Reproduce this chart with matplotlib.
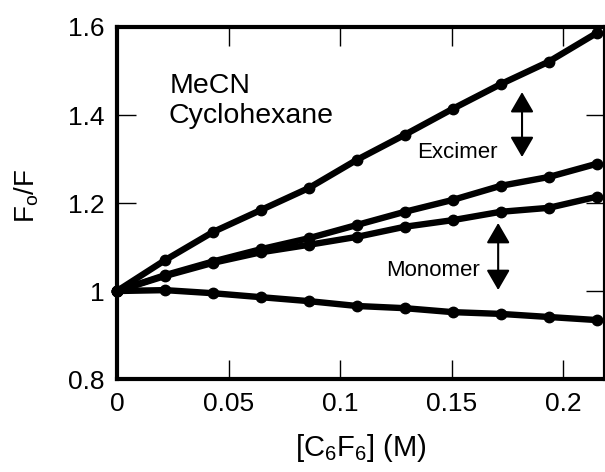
import matplotlib
matplotlib.use("Agg")
import matplotlib.pyplot as plt

plt.rcParams['font.family'] = ['Liberation Sans', 'DejaVu Sans']
plt.rcParams['mathtext.fontset'] = 'custom'
plt.rcParams['mathtext.rm'] = 'Liberation Sans'
plt.rcParams['mathtext.it'] = 'Liberation Sans'

# C6F6 concentrations (M)
conc = [0.0, 0.0215, 0.043, 0.0645, 0.086, 0.1075, 0.129, 0.1505, 0.172, 0.1935, 0.215]

# F0/F ratios for each data set
excimer_mecn = [1.0, 1.070, 1.134, 1.184, 1.234, 1.298, 1.355, 1.414, 1.470, 1.521, 1.586]
excimer_chx = [1.0, 1.036, 1.067, 1.095, 1.120, 1.150, 1.180, 1.207, 1.239, 1.259, 1.289]
monomer_mecn = [1.0, 1.034, 1.064, 1.088, 1.105, 1.123, 1.146, 1.161, 1.180, 1.189, 1.214]
monomer_chx = [1.0, 1.002, 0.995, 0.986, 0.977, 0.966, 0.961, 0.952, 0.948, 0.941, 0.934]

xticks = [0, 0.05, 0.1, 0.15, 0.2]
xtick_labels = ["0", "0.05", "0.1", "0.15", "0.2"]
yticks = [0.8, 1.0, 1.2, 1.4, 1.6]
ytick_labels = ["0.8", "1", "1.2", "1.4", "1.6"]

fig = plt.figure(figsize=(6.05, 4.72), dpi=100)
ax = fig.add_axes([0.1934, 0.197, 0.8066, 0.7458])

for series in (excimer_mecn, excimer_chx, monomer_mecn, monomer_chx):
    ax.plot(conc, series, color='black', lw=4.6, marker='o', ms=7.5,
            solid_capstyle='round', clip_on=False, zorder=3)

ax.set_xlim(0, 0.2188)
ax.set_ylim(0.8, 1.6)
ax.set_xticks(xticks)
ax.set_xticklabels(xtick_labels)
ax.set_yticks(yticks)
ax.set_yticklabels(ytick_labels)
ax.tick_params(axis='both', which='both', direction='in', length=14, width=1,
               top=True, right=True, labelsize=19)
ax.tick_params(axis='x', pad=9)
ax.tick_params(axis='y', pad=9)
for sp in ax.spines.values():
    sp.set_linewidth(3)

ax.set_xlabel(r'[C$_{\mathregular{6}}$F$_{\mathregular{6}}$] (M)', fontsize=21)
ax.set_ylabel(r'F$_{\mathregular{o}}$/F', fontsize=20)
ax.xaxis.set_label_coords(0.5, -0.15)
ax.yaxis.set_label_coords(-0.155, 0.52)

ax.text(0.0238, 1.45, 'MeCN', fontsize=20.5, ha='left', va='baseline')
ax.text(0.0229, 1.382, 'Cyclohexane', fontsize=20.5, ha='left', va='baseline')
ax.text(0.1525, 1.315, 'Excimer', fontsize=16, ha='center', va='center')
ax.text(0.1415, 1.047, 'Monomer', fontsize=16, ha='center', va='center')

arrow_style = dict(arrowstyle='<|-|>,head_length=0.62,head_width=0.36',
                   color='black', lw=1.5, mutation_scale=20,
                   shrinkA=0, shrinkB=0)
ax.annotate('', xy=(0.1816, 1.452), xytext=(0.1816, 1.3045), arrowprops=arrow_style)
ax.annotate('', xy=(0.1709, 1.1545), xytext=(0.1709, 1.0023), arrowprops=arrow_style)

fig.savefig('out.png', dpi=100)
